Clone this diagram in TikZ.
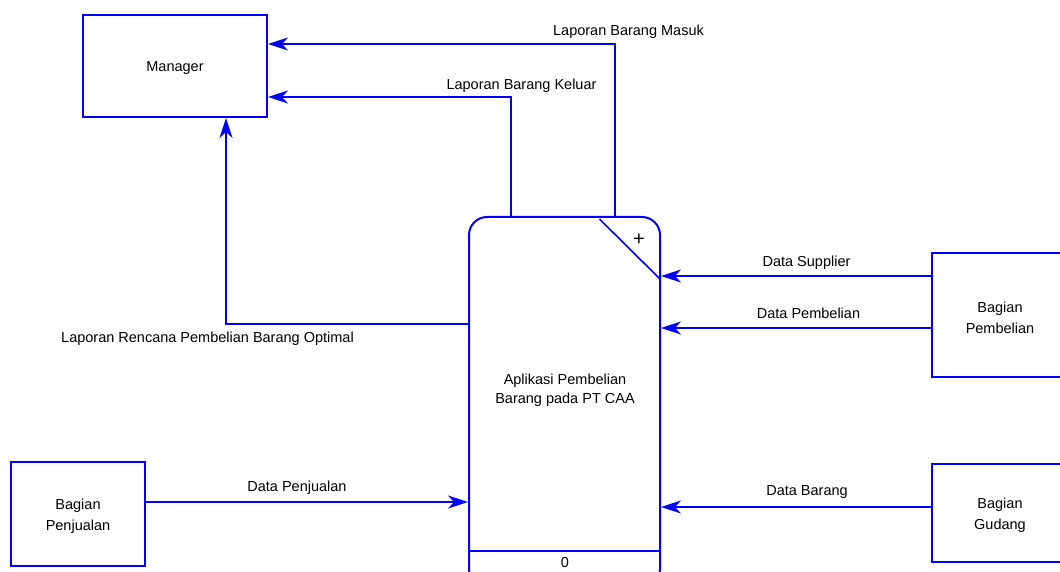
\documentclass[tikz,border=0pt]{standalone}
\usepackage{fontspec}
\setmainfont{Liberation Sans}
\usetikzlibrary{arrows.meta}
\definecolor{dfdblue}{RGB}{0,0,255}
\tikzset{
  ent/.style={draw=dfdblue, line width=2pt, fill=white, inner sep=0pt},
  etxt/.style={align=center, font=\fontsize{14.5}{21}\selectfont, yshift=-2.5pt},
  flow/.style={draw=dfdblue, line width=2pt, -{Stealth[length=20pt,width=13pt,inset=6pt]}},
  lbl/.style={font=\fontsize{14.5}{18}\selectfont, inner sep=0pt},
}
\begin{document}
\begin{tikzpicture}[x=1pt,y=-1pt]
\useasboundingbox (0,0) rectangle (1060,572);
% entities
\node[ent, minimum width=184pt, minimum height=102pt, label={[etxt]center:Manager}] (mgr) at (175,66) {};
\node[ent, minimum width=134pt, minimum height=104pt, label={[etxt]center:Bagian\\Penjualan}] (pen) at (78,513.5) {};
\node[ent, minimum width=136pt, minimum height=124pt, label={[etxt]center:Bagian\\Pembelian}] (pem) at (1000,315) {};
\node[ent, minimum width=136pt, minimum height=98pt, label={[etxt]center:Bagian\\Gudang}] (gud) at (1000,513) {};
% process
\node[ent, rounded corners=18pt, minimum width=191pt, minimum height=370pt] (proc) at (564.5,402) {};
\node[lbl, align=center, font=\fontsize{14.5}{19}\selectfont] (ptxt) at (565,390) {Aplikasi Pembelian\\Barang pada PT CAA};
\draw[dfdblue, line width=2pt] (proc.west |- 0,551) coordinate (dl) -- (proc.east |- 0,551) coordinate (dr);
\coordinate (d1) at (599.5,219);
\coordinate (d2) at (660,279);
\draw[dfdblue, line width=1.6pt] (d1) -- (d2);
\node[lbl, font=\fontsize{20}{20}\selectfont] (plus) at (639,240) {+};
\node[lbl] (pid) at (565,563) {0};
% connection coordinates
\coordinate (cm) at (615,44);
\coordinate (ck) at (511,97);
\coordinate (cr) at (226,324);
\coordinate (cs) at (0,276);
\coordinate (cp) at (0,328);
\coordinate (cj) at (0,502);
\coordinate (cb) at (0,507);
% flows
\draw[flow] (proc.north -| cm) |- (mgr.east |- cm);
\draw[flow] (proc.north -| ck) |- (mgr.east |- ck);
\draw[flow] (proc.west |- cr) -| (mgr.south -| cr);
\draw[flow] (pem.west |- cs) -- (proc.east |- cs);
\draw[flow] (pem.west |- cp) -- (proc.east |- cp);
\draw[flow] (pen.east |- cj) -- (proc.west |- cj);
\draw[flow] (gud.west |- cb) -- (proc.east |- cb);
% labels
\node[lbl] (lm) at (628.5,31.5) {Laporan Barang Masuk};
\node[lbl] (lk) at (521.5,85.5) {Laporan Barang Keluar};
\node[lbl] (lr) at (207.5,339) {Laporan Rencana Pembelian Barang Optimal};
\node[lbl] (ls) at (806.5,262.5) {Data Supplier};
\node[lbl] (lp) at (808.5,313.5) {Data Pembelian};
\node[lbl] (lj) at (297,488) {Data Penjualan};
\node[lbl] (lb) at (807,492.5) {Data Barang};
\end{tikzpicture}
\end{document}
